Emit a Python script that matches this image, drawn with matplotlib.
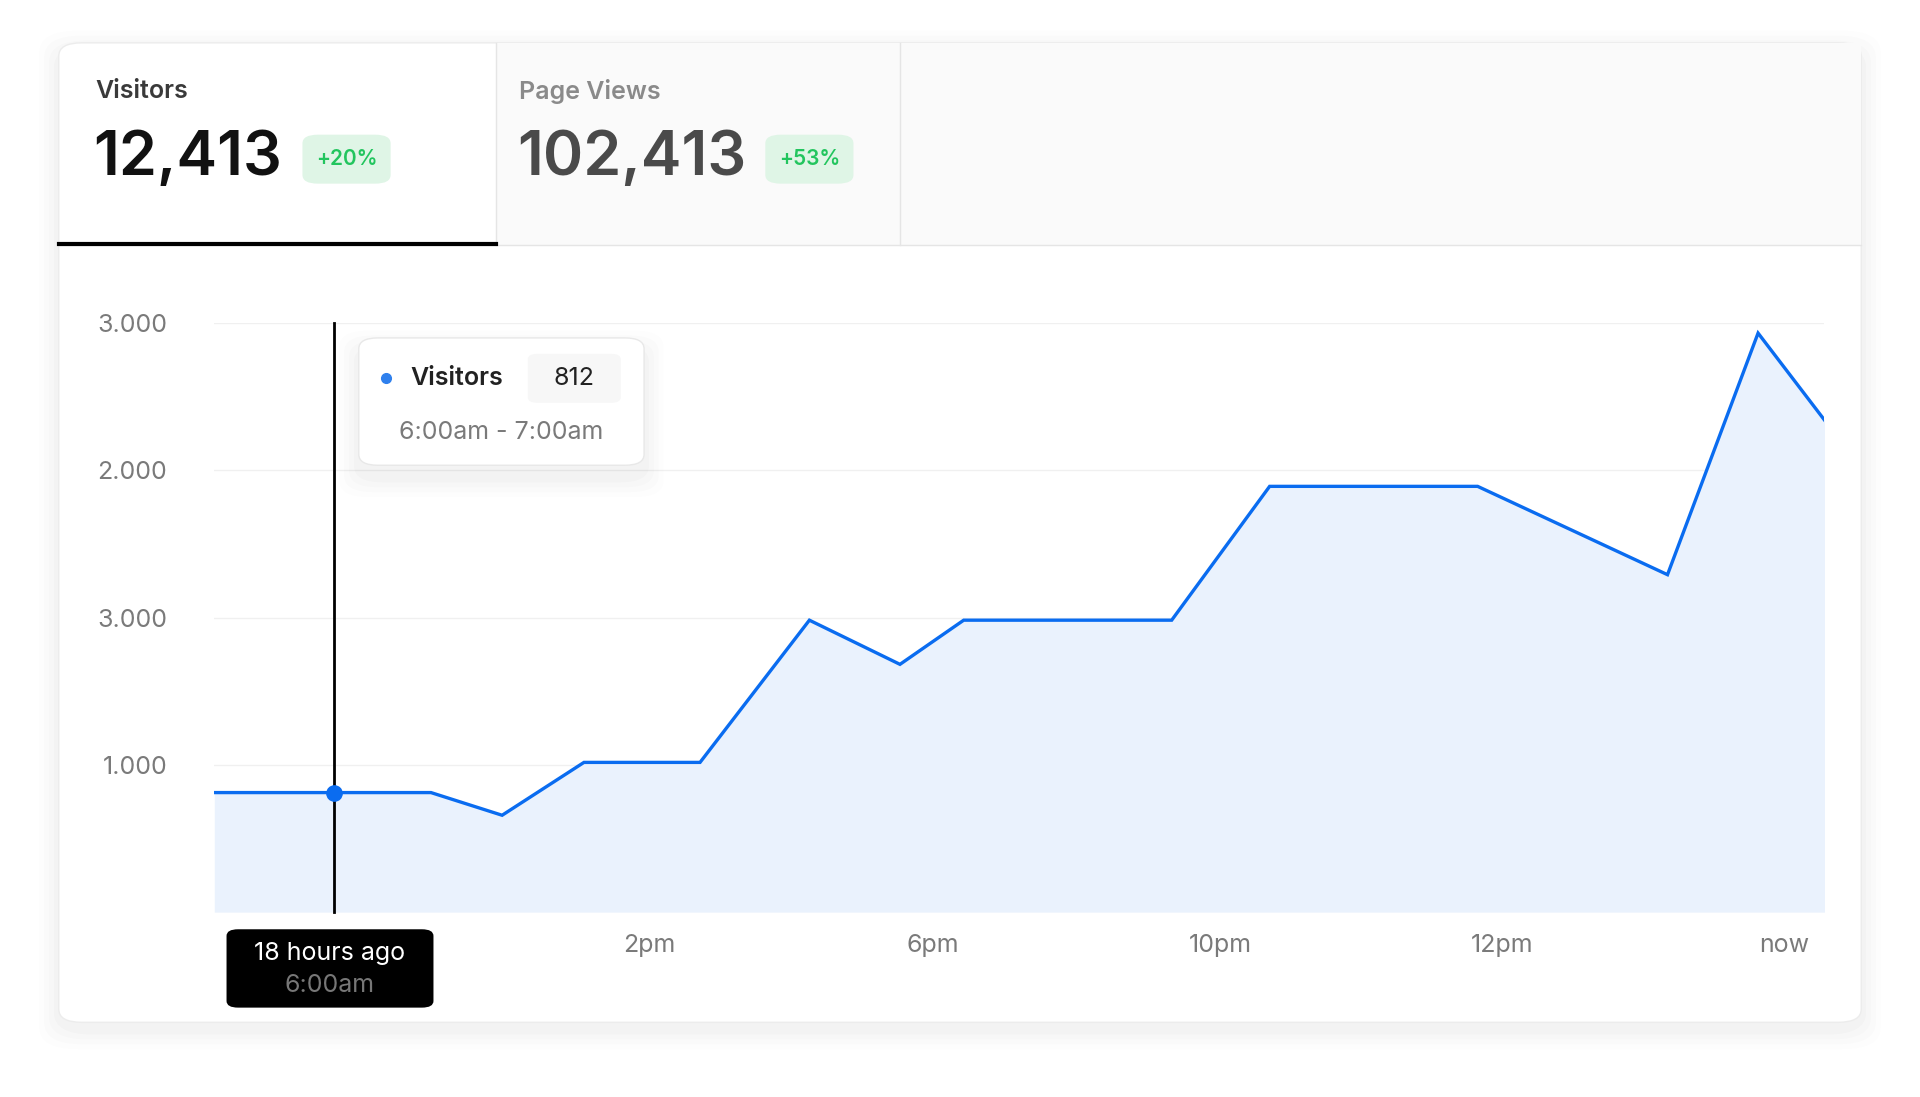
import matplotlib
matplotlib.use("Agg")
import matplotlib.pyplot as plt
from matplotlib.patches import FancyBboxPatch, Rectangle
import numpy as np

plt.rcParams['font.family'] = ['Inter', 'DejaVu Sans']

# data (x in hours from start, y visitors)
hours = [0.0, 1.79, 3.23, 4.29, 5.51, 7.24, 8.87, 10.22, 11.17, 14.27, 15.73, 18.83, 21.66, 23.01, 24.0]
visitors = [812, 812, 812, 658, 1017, 1017, 1983, 1683, 1983, 1983, 2892, 2892, 2292, 3933, 3342]
ytick_vals = [1000, 2000, 3000, 4000]
ytick_labels = ["1.000", "3.000", "2.000", "3.000"]
xtick_vals = [6.48, 10.71, 15.0, 19.2, 23.4]
xtick_labels = ["2pm", "6pm", "10pm", "12pm", "now"]
hover_idx = 1

W, H = 1568, 896  # layout units of the design


def fx(x):
    return x / W


def fy(y):
    return 1 - y / H


fig = plt.figure(figsize=(19.2, 10.97), dpi=100)
fig.patch.set_facecolor("white")

# card shadow + card
for i, a in enumerate([0.008, 0.01, 0.012, 0.015]):
    g = 16 - i * 4
    fig.patches.append(FancyBboxPatch((fx(48 - g), fy(835 + g + 6)), fx(1472 + 2 * g), (800 + 2 * g) / H,
                                      boxstyle="round,pad=0,rounding_size=0.02", transform=fig.transFigure,
                                      fc="black", ec="none", alpha=a, zorder=0))
fig.patches.append(FancyBboxPatch((fx(48), fy(835)), fx(1472), 800 / H,
                                  boxstyle="round,pad=0,rounding_size=0.012", transform=fig.transFigure,
                                  fc="white", ec="#ececec", lw=1, zorder=1))
# header tabs
fig.patches.append(Rectangle((fx(405), fy(200)), fx(1115), 165 / H, transform=fig.transFigure,
                             fc="#fafafa", ec="none", zorder=2))
fig.add_artist(plt.Line2D([fx(405), fx(405)], [fy(200), fy(35)], color="#e5e5e5", lw=1, zorder=3))
fig.add_artist(plt.Line2D([fx(735), fx(735)], [fy(200), fy(35)], color="#e5e5e5", lw=1, zorder=3))
fig.add_artist(plt.Line2D([fx(48), fx(1520)], [fy(200), fy(200)], color="#e5e5e5", lw=1, zorder=3))
fig.add_artist(plt.Line2D([fx(48), fx(405)], [fy(199), fy(199)], color="black", lw=3, zorder=4))

fig.text(fx(78), fy(75), "Visitors", fontsize=18, fontweight="semibold", color="#3a3a3a", va="center")
fig.text(fx(76), fy(130), "12,413", fontsize=44, fontweight="semibold", color="#111111", va="center")
fig.text(fx(424), fy(75), "Page Views", fontsize=18, fontweight="semibold", color="#8a8a8a", va="center")
fig.text(fx(422), fy(130), "102,413", fontsize=44, fontweight="semibold", color="#4a4a4a", va="center")
for x0, w, s in [(247, 72, "+20%"), (625, 72, "+53%")]:
    fig.patches.append(FancyBboxPatch((fx(x0), fy(150)), fx(w), 40 / H,
                                      boxstyle="round,pad=0,rounding_size=0.008", transform=fig.transFigure,
                                      fc="#dff5e6", ec="none", zorder=3))
    fig.text(fx(x0 + w / 2), fy(130), s, fontsize=15, fontweight="semibold", color="#22c55e",
             ha="center", va="center", zorder=4)

# chart
ax = fig.add_axes([fx(175), fy(745), fx(1315), (745 - 264) / H])
ax.set_zorder(5)
ax.set_facecolor("none")
ax.fill_between(hours, visitors, 0, color="#eaf2fd", lw=0)
ax.plot(hours, visitors, color="#0a6cf0", lw=2.4, solid_joinstyle="miter")
ax.set_xlim(0, 24)
ax.set_ylim(0, 4000)
for v in ytick_vals:
    ax.axhline(v, color="#f0f0f0", lw=1, zorder=0)
ax.set_yticks(ytick_vals, ytick_labels)
ax.set_xticks(xtick_vals, xtick_labels)
ax.tick_params(length=0, labelsize=18, labelcolor="#7a7a7a", pad=16)
ax.tick_params(axis="y", pad=34)
for sp in ax.spines.values():
    sp.set_visible(False)

# hover
hx, hy = hours[hover_idx], visitors[hover_idx]
ax.plot([hx, hx], [0, 4000], color="black", lw=2, clip_on=False, zorder=5)
ax.plot(hx, hy, "o", color="#0a6cf0", ms=11, zorder=6)

# tooltip
for i, a in enumerate([0.008, 0.01, 0.012, 0.015]):
    g = 16 - i * 4
    fig.patches.append(FancyBboxPatch((fx(293 - g), fy(380 + g + 10)), fx(233 + 2 * g), (104 + 2 * g) / H,
                                      boxstyle="round,pad=0,rounding_size=0.015", transform=fig.transFigure,
                                      fc="black", ec="none", alpha=a, zorder=7))
fig.patches.append(FancyBboxPatch((fx(293), fy(380)), fx(233), 104 / H,
                                  boxstyle="round,pad=0,rounding_size=0.01", transform=fig.transFigure,
                                  fc="white", ec="#e8e8e8", lw=1, zorder=8))
fig.patches.append(FancyBboxPatch((fx(431), fy(329)), fx(76), 40 / H,
                                  boxstyle="round,pad=0,rounding_size=0.005", transform=fig.transFigure,
                                  fc="#f7f7f7", ec="none", zorder=9))
fig.add_artist(plt.Line2D([fx(315)], [fy(309)], marker="o", ms=7, color="#2f80ed", zorder=10))
fig.text(fx(335), fy(309), "Visitors", fontsize=18, fontweight="semibold", color="#222222", va="center", zorder=10)
fig.text(fx(469), fy(309), "812", fontsize=18, color="#222222", ha="center", va="center", zorder=10)
fig.text(fx(409), fy(353), "6:00am - 7:00am", fontsize=18, color="#7a7a7a", ha="center", va="center", zorder=10)

# x tooltip
fig.patches.append(FancyBboxPatch((fx(185), fy(823)), fx(169), 64 / H,
                                  boxstyle="round,pad=0,rounding_size=0.006", transform=fig.transFigure,
                                  fc="black", ec="none", zorder=9))
fig.text(fx(269), fy(779), "18 hours ago", fontsize=18, color="white", ha="center", va="center", zorder=10)
fig.text(fx(269), fy(805), "6:00am", fontsize=18, color="#777777", ha="center", va="center", zorder=10)

fig.savefig("out.png", dpi=100, facecolor="white")
